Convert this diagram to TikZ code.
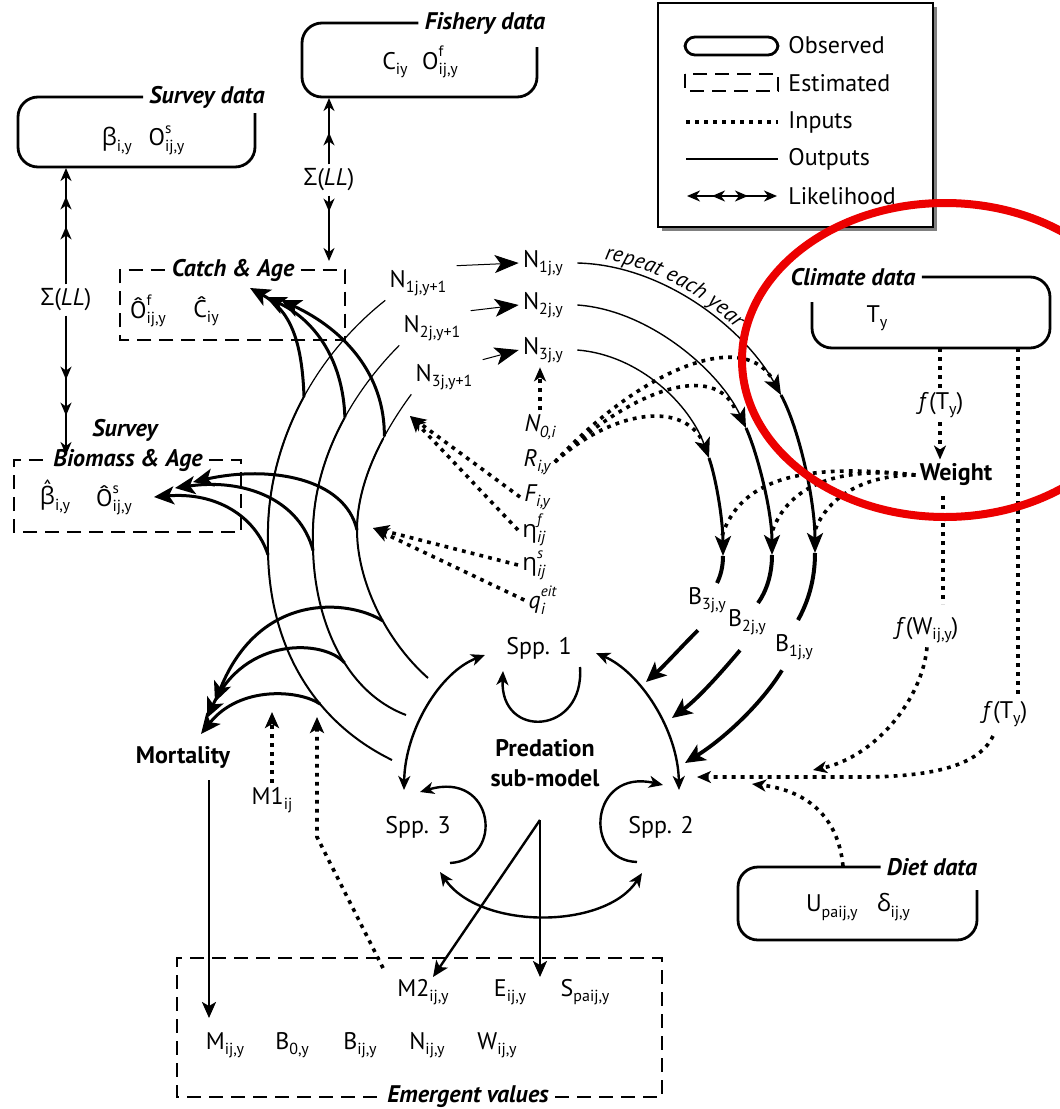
\documentclass[tikz,border=0pt]{standalone}
\usepackage{fontspec}
\setmainfont{PT Sans}
\newfontfamily\grkf{Open Sans}
\usetikzlibrary{arrows.meta,decorations.markings,decorations.text}
\newcommand\grkl[1]{{\grkf #1}}
\newcommand\sbs[1]{\raisebox{-0.45ex}{\fontsize{8}{9}\selectfont #1}}
\newcommand\sps[1]{\raisebox{1.05ex}{\fontsize{7.5}{9}\selectfont #1}}
\newcommand\sus[2]{\makebox[0pt][l]{\sps{#1}}\sbs{#2}}
\newcommand\hatc[1]{\ooalign{#1\cr\hidewidth\raisebox{0.3em}{\char"02C6}\hidewidth\cr}}
\definecolor{hlred}{RGB}{236,0,0}
\begin{document}
\begin{tikzpicture}[x=0.5pt,y=-0.5pt,
  every node/.style={inner sep=2pt,font=\fontsize{12}{14}\selectfont},
  ttl/.style={font=\fontsize{12}{14}\selectfont\bfseries\itshape,inner sep=3pt},
  bld/.style={font=\fontsize{12}{15}\selectfont\bfseries,align=center},
  obs/.style={line width=1.4pt,rounded corners=10pt},
  est/.style={line width=0.8pt,dash pattern=on 7pt off 4pt},
  inp/.style={line width=1.8pt,dash pattern=on 1.9pt off 2.6pt},
  outl/.style={line width=1pt},
  thn/.style={line width=0.6pt},
  thk/.style={line width=1.5pt},
  lk/.style={line width=1pt},
  aBig/.style={arrows={-Stealth[length=10pt,width=9pt,inset=2.5pt]}},
  aArc/.style={arrows={-Stealth[length=10pt,width=8pt,inset=2.5pt]}},
  aMid/.style={arrows={-Stealth[length=8pt,width=7pt,inset=2pt]}},
  aSm/.style={arrows={-Stealth[length=7pt,width=6pt,inset=2pt]}},
  aBoth/.style={arrows={Stealth[length=7pt,width=6pt,inset=2pt]-Stealth[length=7pt,width=6pt,inset=2pt]}},
  aLk/.style={arrows={-Stealth[length=6.5pt,width=5.5pt,inset=2pt]}},
  lkm/.style={postaction={decorate},decoration={markings,mark=at position #1 with {\arrow{Stealth[length=6.5pt,width=5.5pt,inset=2pt]}}}},
  lkmm/.style 2 args={postaction={decorate},decoration={markings,mark=at position #1 with {\arrow{Stealth[length=6.5pt,width=5.5pt,inset=2pt]}},mark=at position #2 with {\arrow{Stealth[length=6.5pt,width=5.5pt,inset=2pt]}}}},
]
\useasboundingbox (0,0) rectangle (1060,1109);
\fill[white] (0,0) rectangle (1060,1109);

% ---------------- legend
\fill[black!50] (662,7) rectangle (937,231);
\draw[line width=1.1pt,fill=white] (658,3) rectangle (933,227);
\draw[line width=1.4pt,rounded corners=5pt] (685,37) rectangle (778,55);
\node[anchor=west] (lgO) at (784,45) {Observed};
\draw[est] (685,74) rectangle (778,91);
\node[anchor=west] (lgE) at (784,83) {Estimated};
\draw[inp] (686,122) -- (778,122);
\node[anchor=west] (lgI) at (784,122) {Inputs};
\draw[outl] (686,159) -- (778,159);
\node[anchor=west] (lgU) at (784,159) {Outputs};
\coordinate (lkL) at (687,196);
\coordinate (lkM) at (730,196);
\coordinate (lkR) at (777,196);
\draw[lk,aLk,lkm={9pt}] (lkM) -- (lkL);
\draw[lk,aLk,lkm={9pt}] (lkM) -- (lkR);
\node[anchor=west] (lgL) at (784,196) {Likelihood};

% ---------------- survey / fishery data
\node[ttl] (svT) at (207,97) {Survey data};
\node (svC) at (143,140) {\grkl{β}\sbs{i,y}\hspace{0.7em}O\sus{s}{ij,y}};
\draw[obs] (svT.west) -- (18,97) -- (18,167) -- (255,167) -- (255,113);
\node[ttl] (fiT) at (485,23) {Fishery data};
\node (fiC) at (420,62) {C\sbs{iy}\hspace{0.6em}O\sus{f}{ij,y}};
\draw[obs] (fiT.west) -- (302,23) -- (302,97) -- (537,97) -- (537,47);

% ---------------- likelihood links
\coordinate (svB) at (66,168);
\coordinate (bmTop) at (66,455);
\coordinate (fiB) at (329,98);
\coordinate (caTop) at (329,261);
\node (sg1) at (66,300) {\grkl{Σ}(\textit{LL})};
\node (sg2) at (329,180) {\grkl{Σ}(\textit{LL})};
\draw[lk,aLk,lkmm={29pt}{44pt}] (sg1.north) -- (svB);
\draw[lk,aLk,lkmm={32pt}{50pt}] (sg1.south) -- (bmTop);
\draw[lk,aLk,lkm={16pt}] (sg2.north) -- (fiB);
\draw[lk,aLk,lkm={8pt}] (sg2.south) -- (caTop);

% ---------------- estimated boxes
\node[ttl] (caT) at (233,270) {Catch \& Age};
\node (caO) at (148,311) {Ô\sus{f}{ij,y}};
\node (caC) at (206,311) {Ĉ\sbs{iy}};
\draw[est] (caT.east) -- (345,270) -- (345,340) -- (120,340) -- (120,270) -- (caT.west);
\node[ttl] (suT) at (125,430) {Survey};
\node[ttl] (bmT) at (128,460) {Biomass \& Age};
\node (bmB) at (55,500) {\hatc{\grkl{β}}\sbs{i,y}};
\node (bmO) at (114,500) {Ô\sus{s}{ij,y}};
\draw[est] (bmT.east) -- (241,460) -- (241,532) -- (14,532) -- (14,460) -- (bmT.west);

% ---------------- N nodes
\node (n1p) at (418,283) {N\sbs{1j,y+1}};
\node (n2p) at (432,328) {N\sbs{2j,y+1}};
\node (n3p) at (444,377) {N\sbs{3j,y+1}};
\node (n1) at (543,263) {N\sbs{1j,y}};
\node (n2) at (543,305) {N\sbs{2j,y}};
\node (n3) at (543,350) {N\sbs{3j,y}};
\draw[line width=0.5pt,arrows={-Stealth[length=12pt,width=9pt,inset=3pt]}] ([xshift=3pt]n1p.north east) -- (n1.west);
\draw[line width=0.5pt,arrows={-Stealth[length=12pt,width=9pt,inset=3pt]}] ([xshift=3pt]n2p.north east) -- (n2.west);
\draw[line width=0.5pt,arrows={-Stealth[length=12pt,width=9pt,inset=3pt]}] ([xshift=3pt]n3p.north east) -- (n3.west);

% ---------------- inputs
\node (n0) at (540,427) {\textit{N\sbs{0,i}}};
\node (ri) at (537,462) {\textit{R\sbs{i,y}}};
\node (fi) at (537,497) {\textit{F\sbs{i,y}}};
\node (ef) at (534,530) {\grkl{η}\sus{\textit{f}}{\textit{ij}}};
\node (es) at (534,565) {\grkl{η}\sus{\textit{s}}{\textit{ij}}};
\node (qe) at (537,600) {\textit{q}\sus{\textit{eit}}{\textit{i}}};
\draw[inp,aSm] (n0.north) -- (n0.north |- n3.south);
\coordinate (tipA) at (410,416);
\coordinate (tipB) at (373,528);
\draw[inp,aMid] (fi.west) -- (tipA);
\draw[inp,aMid] (ef.west) -- (tipA);
\draw[inp,aMid] (es.west) -- (tipB);
\draw[inp,aMid] (qe.west) -- (tipB);

% ---------------- N -> B arcs
\coordinate (a1r) at (781,395); \coordinate (a1w) at (815,553); \coordinate (a1e) at (798,620);
\coordinate (a2r) at (746,428); \coordinate (a2w) at (772,555); \coordinate (a2e) at (758,603);
\coordinate (a3r) at (709,458); \coordinate (a3w) at (723,556); \coordinate (a3e) at (717,583);
\draw[line width=0.7pt,aArc] ([xshift=5pt]n1.east) .. controls (665,265) and (745,330) .. (a1r);
\draw[line width=1.5pt,aArc] (a1r) .. controls (799,428) and (815,500) .. (a1w);
\draw[line width=2pt] (a1w) .. controls (815,580) and (808,602) .. (a1e);
\draw[line width=0.7pt,aArc] ([xshift=5pt]n2.east) .. controls (650,310) and (720,372) .. (a2r);
\draw[line width=1.5pt,aArc] (a2r) .. controls (757,452) and (772,510) .. (a2w);
\draw[line width=2pt] (a2w) .. controls (772,575) and (766,592) .. (a2e);
\draw[line width=0.7pt,aArc] ([xshift=5pt]n3.east) .. controls (640,355) and (690,405) .. (a3r);
\draw[line width=1.5pt,aArc] (a3r) .. controls (716,478) and (723,520) .. (a3w);
\draw[line width=2pt] (a3w) .. controls (723,568) and (720,577) .. (a3e);
\path[decorate,decoration={text along path,
   text={|\fontsize{11}{13}\selectfont\itshape|repeat each year},
   text align={left indent=13pt},raise=3pt}]
   ([xshift=5pt]n1.east) .. controls (665,265) and (745,330) .. (a1r);

% recruitment inputs
\draw[inp] (ri.east) .. controls (610,412) and (680,400) .. (702,440);
\draw[inp] (ri.east) .. controls (630,390) and (715,360) .. (736,411);
\draw[inp] (ri.east) .. controls (640,370) and (740,330) .. (771,377);

% ---------------- B nodes and arrows
\node (b3) at (707,600) {B\sbs{3j,y}};
\node (b2) at (747,622) {B\sbs{2j,y}};
\node (b1) at (794,647) {B\sbs{1j,y}};
\coordinate (bt3) at (646,682);
\coordinate (bt2) at (672,718);
\coordinate (bt1) at (685,763);
\draw[line width=1.9pt,aBig] ([shift={(-4.5pt,-6.5pt)}]b3.south) .. controls (683,645) and (665,665) .. (bt3);
\draw[line width=1.9pt,aBig] ([shift={(-3.5pt,-5.5pt)}]b2.south) .. controls (725,668) and (700,697) .. (bt2);
\draw[line width=1.9pt,aBig] ([shift={(-6pt,-3pt)}]b1.south) .. controls (762,703) and (725,738) .. (bt1);

% ---------------- predation sub-model
\node (sp1) at (539,648) {Spp. 1};
\node (sp3) at (418,827) {Spp. 3};
\node (sp2) at (661,827) {Spp. 2};
\node[bld] (pred) at (545,763) {Predation\\sub-model};
\coordinate (p1L) at (485,655); \coordinate (p3T) at (404,790);
\coordinate (p1R) at (596,653); \coordinate (p2T) at (679,790);
\coordinate (p3B) at (440,872); \coordinate (p2B) at (642,873);
\draw[line width=1.2pt,aBoth] (p1L) .. controls (440,672) and (405,730) .. (p3T);
\draw[line width=1.2pt,aBoth] (p1R) .. controls (640,672) and (678,730) .. (p2T);
\draw[line width=1.2pt,aBoth] (p3B) .. controls (480,930) and (605,930) .. (p2B);
\draw[line width=1.2pt,aSm] (580,667) .. controls (585,735) and (500,740) .. (503,671);
\draw[line width=1.2pt,aSm] (450,863) .. controls (505,860) and (495,770) .. (420,792);
\draw[line width=1.2pt,aSm] (637,862) .. controls (582,860) and (590,768) .. (663,785);
\coordinate (pS) at (540,820);
\coordinate (m2T) at (433,977);
\coordinate (eT) at (540,977);
\draw[line width=1.2pt,aMid] (pS) -- (eT);
\draw[line width=1.2pt,aMid] (pS) -- (m2T);

% ---------------- output curves (left)
\coordinate (j1) at (268,540); \coordinate (j2) at (313,540); \coordinate (j3) at (357,530);
\coordinate (e1) at (392,760); \coordinate (e2) at (406,715); \coordinate (e3) at (428,678);
\draw[thn] (j1) .. controls (266,450) and (310,360) .. (n1p.south west) coordinate[pos=0.55] (k1);
\draw[thn] (j2) .. controls (311,470) and (345,400) .. (n2p.south west) coordinate[pos=0.6] (k2);
\draw[thn] (j3) .. controls (357,480) and (385,430) .. (n3p.south west) coordinate[pos=0.65] (k3);
\draw[outl,dash pattern=on 75pt off 1000pt] (j1) .. controls (266,450) and (310,360) .. (n1p.south west);
\draw[outl,dash pattern=on 64pt off 1000pt] (j2) .. controls (311,470) and (345,400) .. (n2p.south west);
\draw[outl,dash pattern=on 48pt off 1000pt] (j3) .. controls (357,480) and (385,430) .. (n3p.south west);
\draw[outl] (j1) .. controls (266,640) and (310,720) .. (e1) coordinate[pos=0.65] (mj3) coordinate[pos=0.05] (q3);
\draw[outl] (j2) .. controls (312,610) and (340,690) .. (e2) coordinate[pos=0.6] (mj2) coordinate[pos=0.05] (q2);
\draw[outl] (j3) .. controls (357,580) and (385,640) .. (e3) coordinate[pos=0.58] (mj1);
% to catch & age
\coordinate (ct1) at (250,288); \coordinate (ct2) at (266,297); \coordinate (ct3) at (281,300);
\draw[thk,aBig] (k1) .. controls (302,340) and (290,310) .. (ct1);
\draw[thk,aBig] (k2) .. controls (343,360) and (315,320) .. (ct2);
\draw[thk,aBig] (k3) .. controls (385,375) and (345,330) .. (ct3);
% to biomass
\coordinate (bt1b) at (193,482); \coordinate (bt2b) at (175,488); \coordinate (bt3b) at (154,497);
\draw[thk,aBig] (j3) .. controls (345,478) and (270,465) .. (bt1b);
\draw[thk,aBig] (q2) .. controls (300,500) and (245,478) .. (bt2b);
\draw[thk,aBig] (q3) .. controls (255,515) and (215,492) .. (bt3b);
% to mortality
\coordinate (mt1) at (215,702); \coordinate (mt2) at (207,718); \coordinate (mt3) at (201,734);
\draw[thk,aBig] (mj1) .. controls (350,600) and (260,590) .. (mt1);
\draw[thk,aBig] (mj2) .. controls (325,640) and (245,635) .. (mt2);
\draw[thk,aBig] (mj3) .. controls (300,690) and (240,685) .. (mt3);

% ---------------- mortality
\node[bld] (mort) at (183,757) {Mortality};
\node (m1) at (272,800) {M1\sbs{ij}};
\draw[inp,aMid] (m1.north) -- (272,712);
\coordinate (moS) at (209,780);
\coordinate (moE) at (209,1018);
\draw[line width=1.2pt,aMid] (moS) -- (moE);

% ---------------- emergent values
\node[ttl] (emT) at (468,1097) {Emergent values};
\draw[est] (emT.east) -- (662,1097) -- (662,958) -- (177,958) -- (177,1097) -- (emT.west);
\node (m2) at (423,992) {M2\sbs{ij,y}};
\node (ee) at (510,992) {E\sbs{ij,y}};
\node (spa) at (585,992) {S\sbs{paij,y}};
\node (mm) at (225,1045) {M\sbs{ij,y}};
\node (b0) at (292,1045) {B\sbs{0,y}};
\node (bij) at (360,1045) {B\sbs{ij,y}};
\node (nij) at (427,1045) {N\sbs{ij,y}};
\node (wij) at (497,1045) {W\sbs{ij,y}};
\draw[inp,aMid] (383,968) -- (317,837) -- (317,717);

% ---------------- climate
\node[ttl] (clT) at (853,277) {Climate data};
\node (ty) at (877,318) {T\sbs{y}};
\draw[obs] (clT.east) -- (1050,277) -- (1050,348) -- (812,348) -- (812,302);
\coordinate (clB1) at (940,348);
\coordinate (clB2) at (1018,348);
\node (fty1) at (941,405) {\textit{f}(T\sbs{y})};
\node[bld] (wt) at (956,475) {Weight};
\draw[inp] (clB1) -- (clB1 |- fty1.north);
\draw[inp,aSm] (clB1 |- fty1.south) -- (clB1 |- wt.north);
\node (fw) at (927,630) {\textit{f}(W\sbs{ij,y})};
\draw[inp] (943,496) -- (943,604);
\coordinate (fwTip) at (813,770);
\draw[inp,aSm] (fw.south) .. controls (922,700) and (875,757) .. (fwTip);
\node (fty2) at (1005,714) {\textit{f}(T\sbs{y})};
\draw[inp] (clB2) -- (clB2 |- fty2.north);
\coordinate (ftTip) at (697,777);
\draw[inp,aSm] (993,736) .. controls (978,768) and (925,777) .. (860,777) -- (ftTip);
% weight to arcs
\draw[inp] (wt.west) .. controls (800,462) and (740,480) .. (722,536);
\draw[inp] (wt.west) .. controls (830,465) and (785,490) .. (771,535);
\draw[inp] (wt.west) .. controls (860,475) and (825,500) .. (814,533);

% ---------------- diet
\node[ttl] (diT) at (932,867) {Diet data};
\node (diC) at (858,907) {U\sbs{paij,y}\hspace{0.8em}\grkl{δ}\sbs{ij,y}};
\draw[obs] (diT.west) -- (738,867) -- (738,940) -- (977,940) -- (977,890);
\coordinate (diS) at (843,866);
\coordinate (diTip) at (752,784);
\draw[inp,aSm] (diS) .. controls (838,815) and (805,790) .. (diTip);

% ---------------- highlight
\draw[hlred,line width=4pt] (945,360) ellipse [x radius=203, y radius=157];
\end{tikzpicture}
\end{document}
